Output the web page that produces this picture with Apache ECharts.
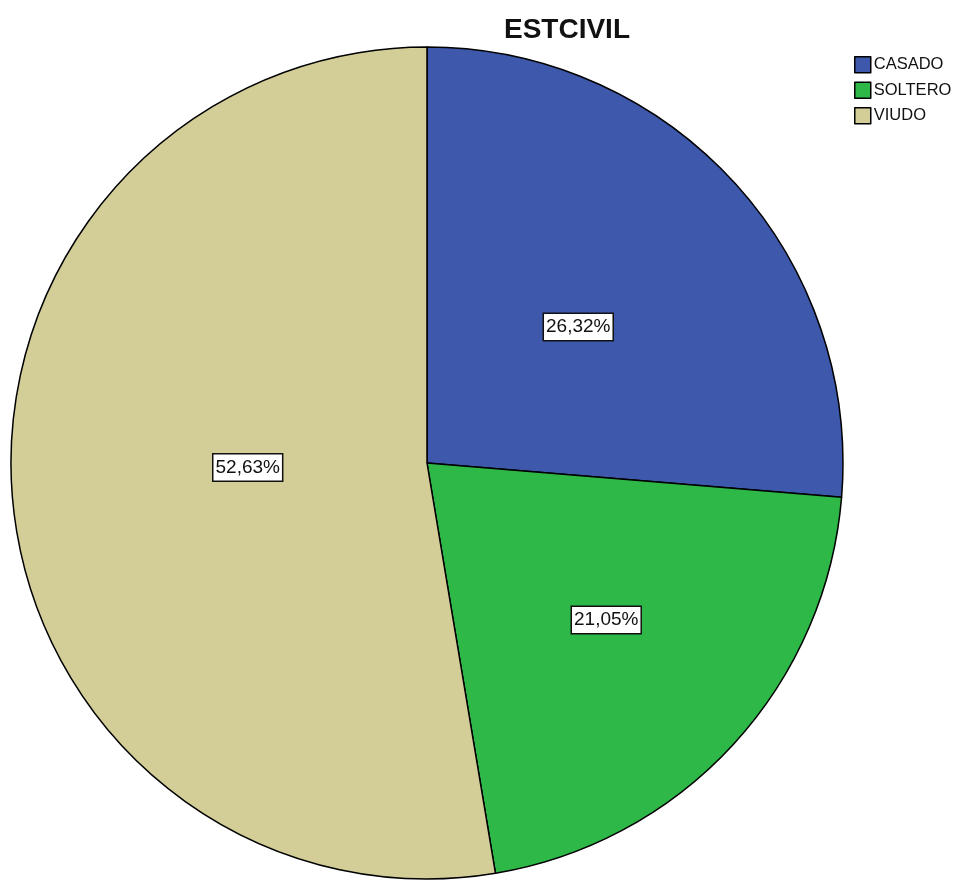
<!DOCTYPE html>
<html>
<head>
<meta charset="utf-8">
<script src="https://cdn.jsdelivr.net/npm/echarts@6/dist/echarts.min.js"></script>
<style>
  html, body { margin: 0; padding: 0; background: #fff; }
  #chart { width: 962px; height: 882px; }
</style>
</head>
<body>
<div id="chart"></div>
<script>
// Estado civil: frecuencias por categoría
const categories = ['CASADO', 'SOLTERO', 'VIUDO'];
const counts = [5, 4, 10];
const sliceColors = ['#3E58AC', '#2EB848', '#D3CE97'];
// Desplazamiento de cada etiqueta respecto a su posición interior
const labelOffsets = [[-4, 7], [24, 14], [31, -13]];

const total = counts.reduce((a, b) => a + b, 0);
const FONT = 'Liberation Sans, Arial, sans-serif';

const chart = echarts.init(document.getElementById('chart'), null, { renderer: 'canvas' });

chart.setOption({
  animation: false,
  textStyle: { fontFamily: FONT },
  title: {
    text: 'ESTCIVIL',
    left: 562,
    top: 11,
    textAlign: 'center',
    textStyle: { fontSize: 28, fontWeight: 'bold', color: '#111', fontFamily: FONT }
  },
  legend: {
    orient: 'vertical',
    left: 849,
    top: 51,
    itemWidth: 16,
    itemHeight: 16,
    itemGap: 8,
    icon: 'rect',
    data: categories,
    itemStyle: { borderColor: '#000', borderWidth: 1.5 },
    textStyle: { fontSize: 16.5, color: '#111', padding: [0, 0, 0, -2] }
  },
  series: [{
    type: 'pie',
    center: [427, 463],
    radius: [0, 416],
    startAngle: 90,
    clockwise: true,
    silent: true,
    itemStyle: { borderColor: '#000', borderWidth: 1.5 },
    label: {
      show: true,
      position: 'inside',
      color: '#111',
      fontSize: 19,
      backgroundColor: '#fff',
      borderColor: '#111',
      borderWidth: 1.5,
      padding: [4, 2, 3, 2],
      formatter: p => (p.value / total * 100).toFixed(2).replace('.', ',') + '%'
    },
    labelLine: { show: false },
    data: categories.map((name, i) => ({
      name,
      value: counts[i],
      itemStyle: { color: sliceColors[i] },
      label: { offset: labelOffsets[i] }
    }))
  }]
});
</script>
</body>
</html>
